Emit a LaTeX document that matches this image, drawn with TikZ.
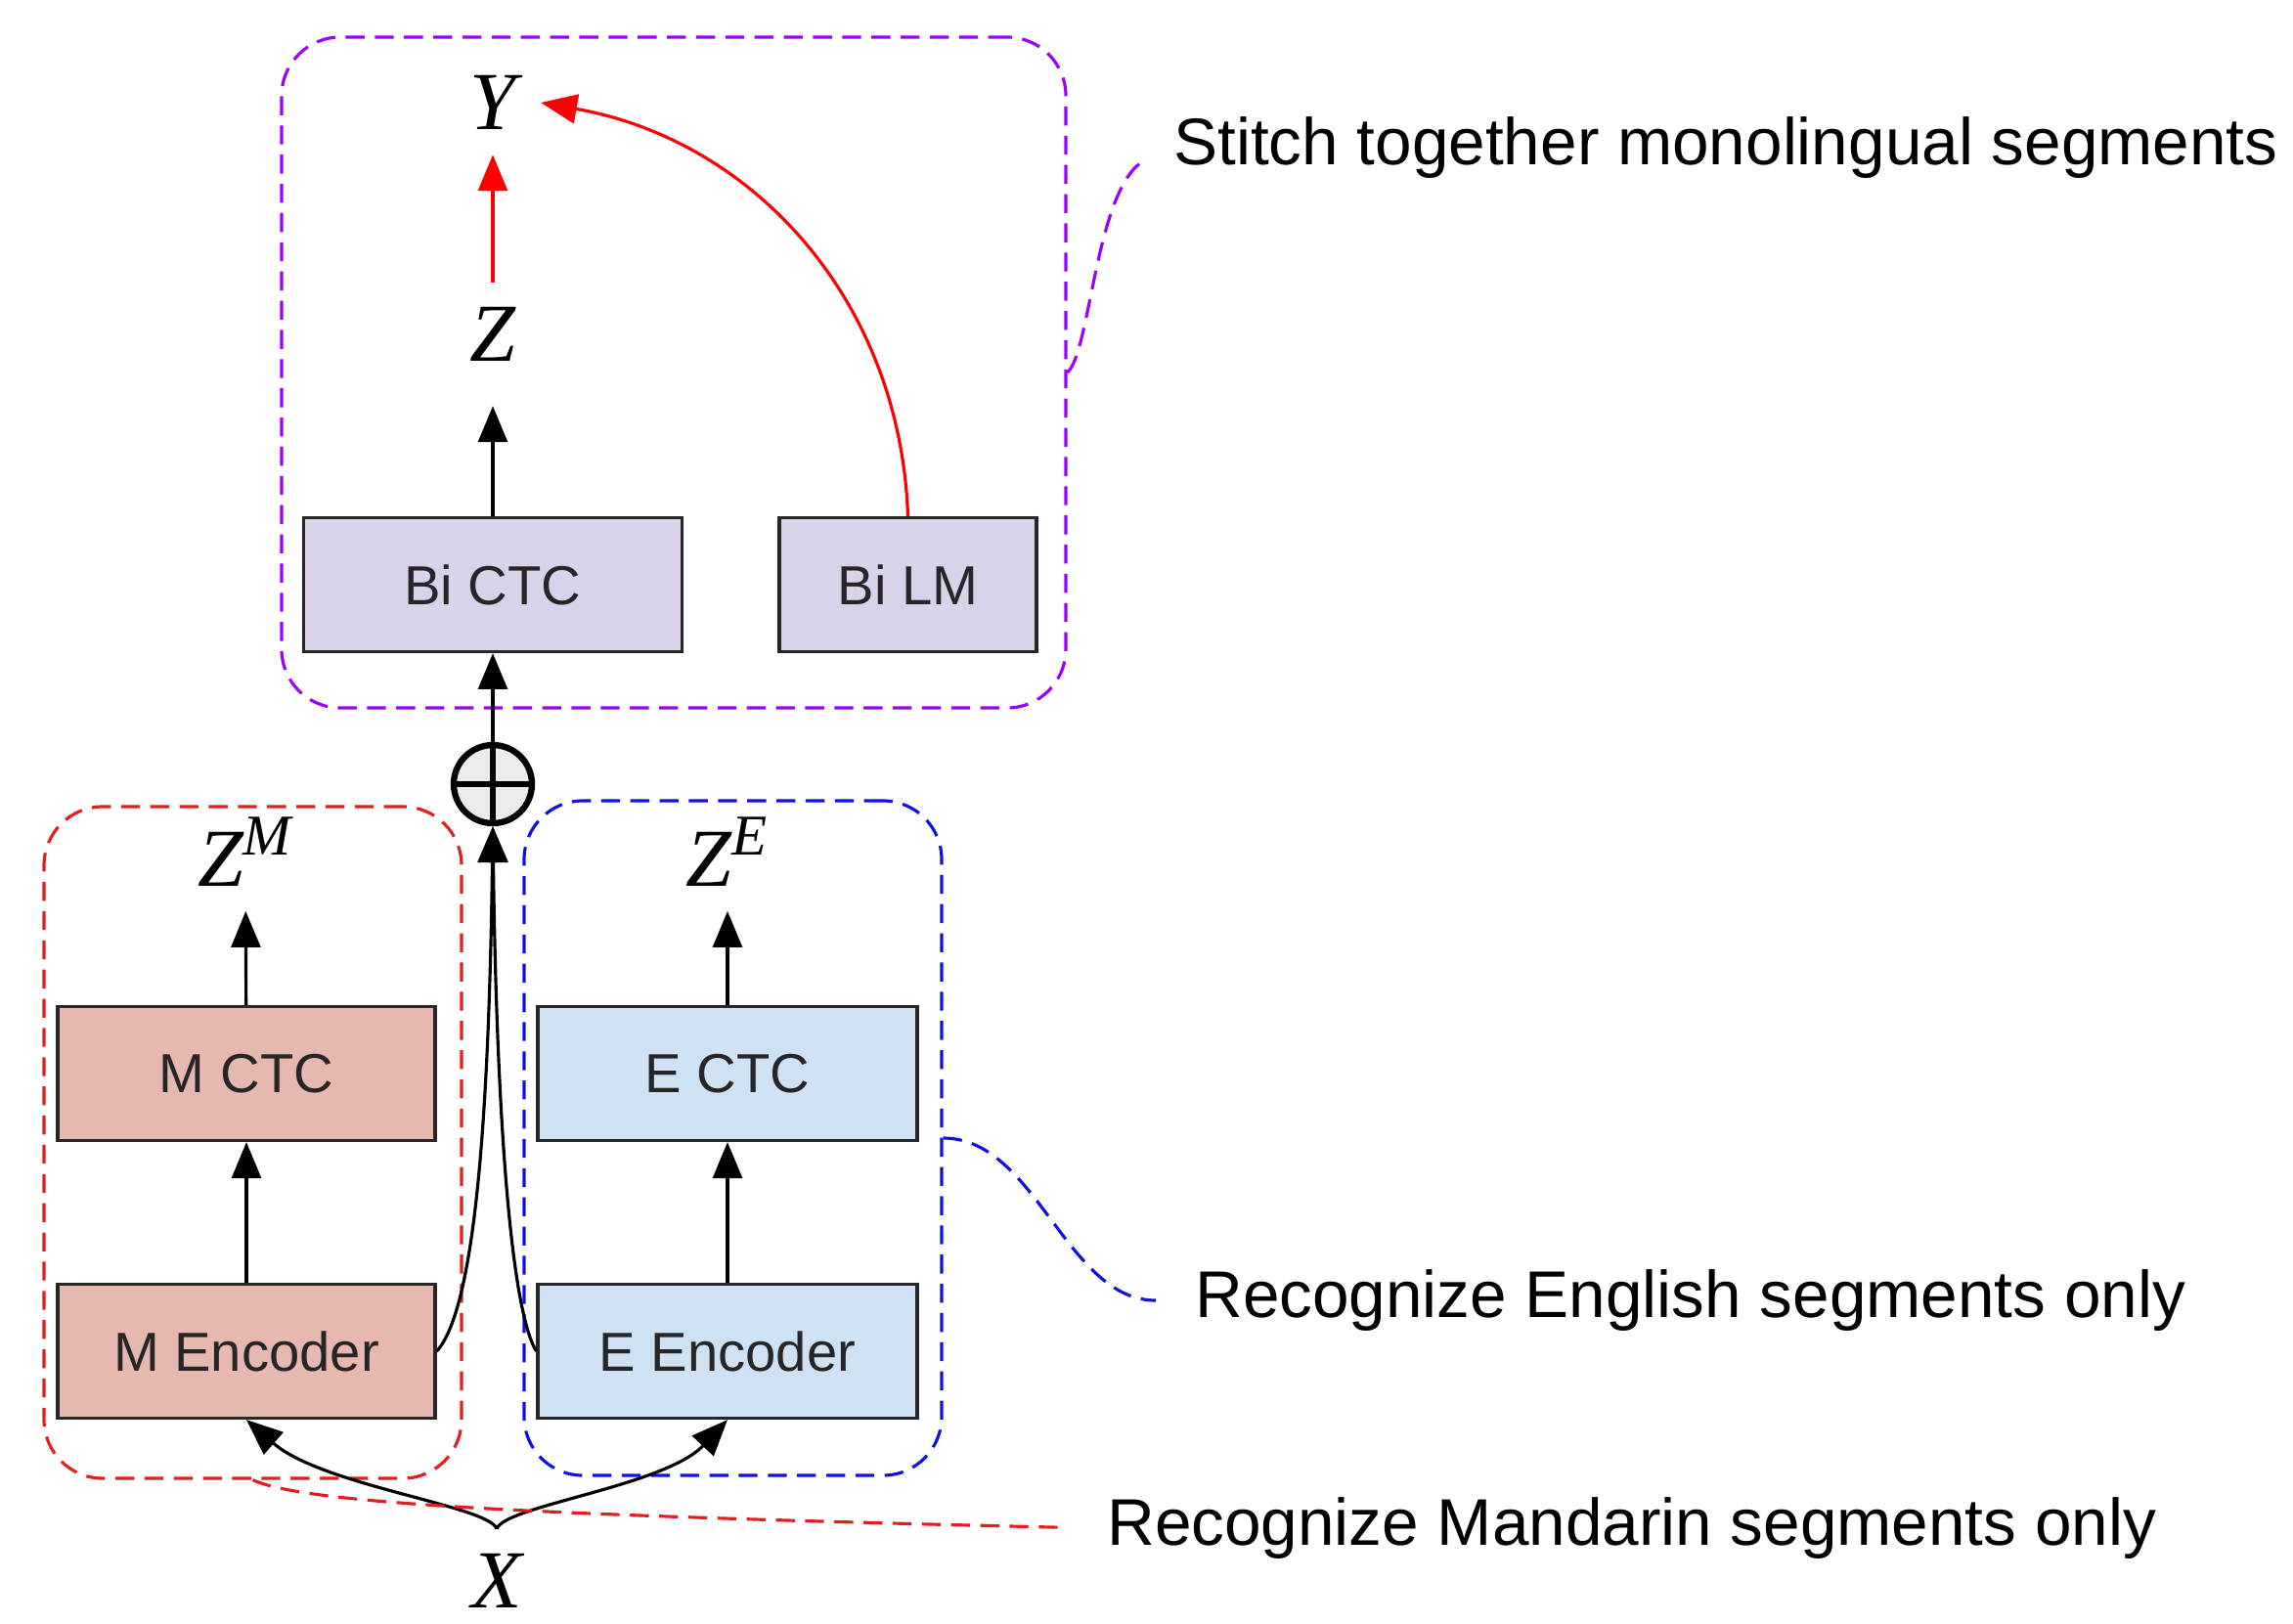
\documentclass[tikz,border=0pt]{standalone}
\usepackage{fontspec}
\setmainfont{Liberation Sans}
\newfontfamily\varfont{Liberation Serif}
\usepackage{tikz}
\usetikzlibrary{arrows.meta}

\definecolor{bifill}{HTML}{D9D2E9}
\definecolor{mfill}{HTML}{E6B8AF}
\definecolor{efill}{HTML}{CFE2F3}
\definecolor{bipurple}{HTML}{9900FF}
\definecolor{mred}{HTML}{E02020}
\definecolor{eblue}{HTML}{1010E0}
\definecolor{arrred}{HTML}{FF0000}

\begin{document}
\begin{tikzpicture}[box/.style={draw=black!85, line width=0.9pt, minimum height=1.37cm, inner sep=0pt, text=black!85, font=\fontsize{16}{19}\selectfont},
	sym/.style={inner sep=0.25cm, font=\varfont\itshape\fontsize{24}{28}\selectfont},
	region/.style={draw, line width=0.9pt, dash pattern=on 5.5pt off 3pt, rounded corners=0.6cm, inner sep=0pt},
	note/.style={anchor=west, font=\fontsize{19.2}{23}\selectfont},
	arr/.style={line width=0.9pt, -{Triangle[length=10.5pt,width=8.5pt]}},
	link/.style={line width=0.9pt, dash pattern=on 5.5pt off 3pt}]

	\useasboundingbox (0,0) rectangle (23.45,-16.6);

	\node[region, draw=bipurple, minimum width=8.02cm, minimum height=6.86cm] (FP) at (6.89,-3.81) {};
	\node[region, draw=mred, minimum width=4.27cm, minimum height=6.87cm] (FM) at (2.585,-11.685) {};
	\node[region, draw=eblue, minimum width=4.27cm, minimum height=6.9cm] (FE) at (7.495,-11.64) {};

	\node[sym] (Y) at (5.04,-1.05) {Y};
	\node[sym] (Z) at (5.04,-3.42) {Z};
	\node[box, fill=bifill, minimum width=3.87cm] (BC) at (5.04,-5.98) {Bi CTC};
	\node[box, fill=bifill, minimum width=2.63cm] (BL) at (9.285,-5.98) {Bi LM};

	\node[draw, circle, line width=1.8pt, fill=black!8, minimum size=0.8cm, inner sep=0pt,
		path picture={\draw[line width=1.8pt] (path picture bounding box.north) -- (path picture bounding box.south)
			(path picture bounding box.west) -- (path picture bounding box.east);}] (S) at (5.04,-8.02) {};

	\node[sym] (ZM) at (2.51,-8.71) {Z\textsuperscript{M}};
	\node[box, fill=mfill, minimum width=3.86cm] (MC) at (2.52,-10.98) {M CTC};
	\node[box, fill=mfill, minimum width=3.86cm] (ME) at (2.52,-13.82) {M Encoder};

	\node[sym] (ZE) at (7.44,-8.71) {Z\textsuperscript{E}};
	\node[box, fill=efill, minimum width=3.88cm] (EC) at (7.44,-10.98) {E CTC};
	\node[box, fill=efill, minimum width=3.88cm] (EE) at (7.44,-13.82) {E Encoder};

	\node[sym] (X) at (5.08,-16.17) {X};

	\node[note] (T1) at (11.88,-1.51) {Stitch together monolingual segments};
	\node[note] (T2) at (12.10,-13.30) {Recognize English segments only};
	\node[note] (T3) at (11.20,-15.63) {Recognize Mandarin segments only};

	\draw[arr] (S) -- (BC);
	\draw[arr, shorten >=0.2cm] (BC) -- (Z);
	\draw[arr, arrred] (Z) -- (Y);
	\draw[arr, arrred] (BL.north) to[out=92,in=-10] (Y.east);

	\draw[arr] (ME) -- (MC);
	\draw[arr] (MC) -- (ZM);
	\draw[arr] (EE) -- (EC);
	\draw[arr] (EC) -- (ZE);

	\draw[arr] (ME.east) .. controls (4.85,-13.4) and (5.0,-11.5) .. (S.south);
	\draw[arr] (EE.west) .. controls (5.23,-13.4) and (5.08,-11.5) .. (S.south);
	\draw[arr] (X.north) .. controls (5.0,-15.4) and (3.3,-15.2) .. (ME.south);
	\draw[arr] (X.north) .. controls (5.16,-15.4) and (6.8,-15.2) .. (EE.south);

	\draw[link, bipurple, shorten >=0.26cm] (FP.east) .. controls (11.15,-3.6) and (11.2,-2.0) .. (T1.west);
	\draw[link, eblue, shorten >=0.28cm] (FE.east) .. controls (10.6,-11.64) and (10.9,-13.3) .. (T2.west);
	\draw[link, mred, shorten >=0.3cm] (FM.south) .. controls (3.1,-15.38) and (5.5,-15.5) .. (T3.west);

\end{tikzpicture}
\end{document}
